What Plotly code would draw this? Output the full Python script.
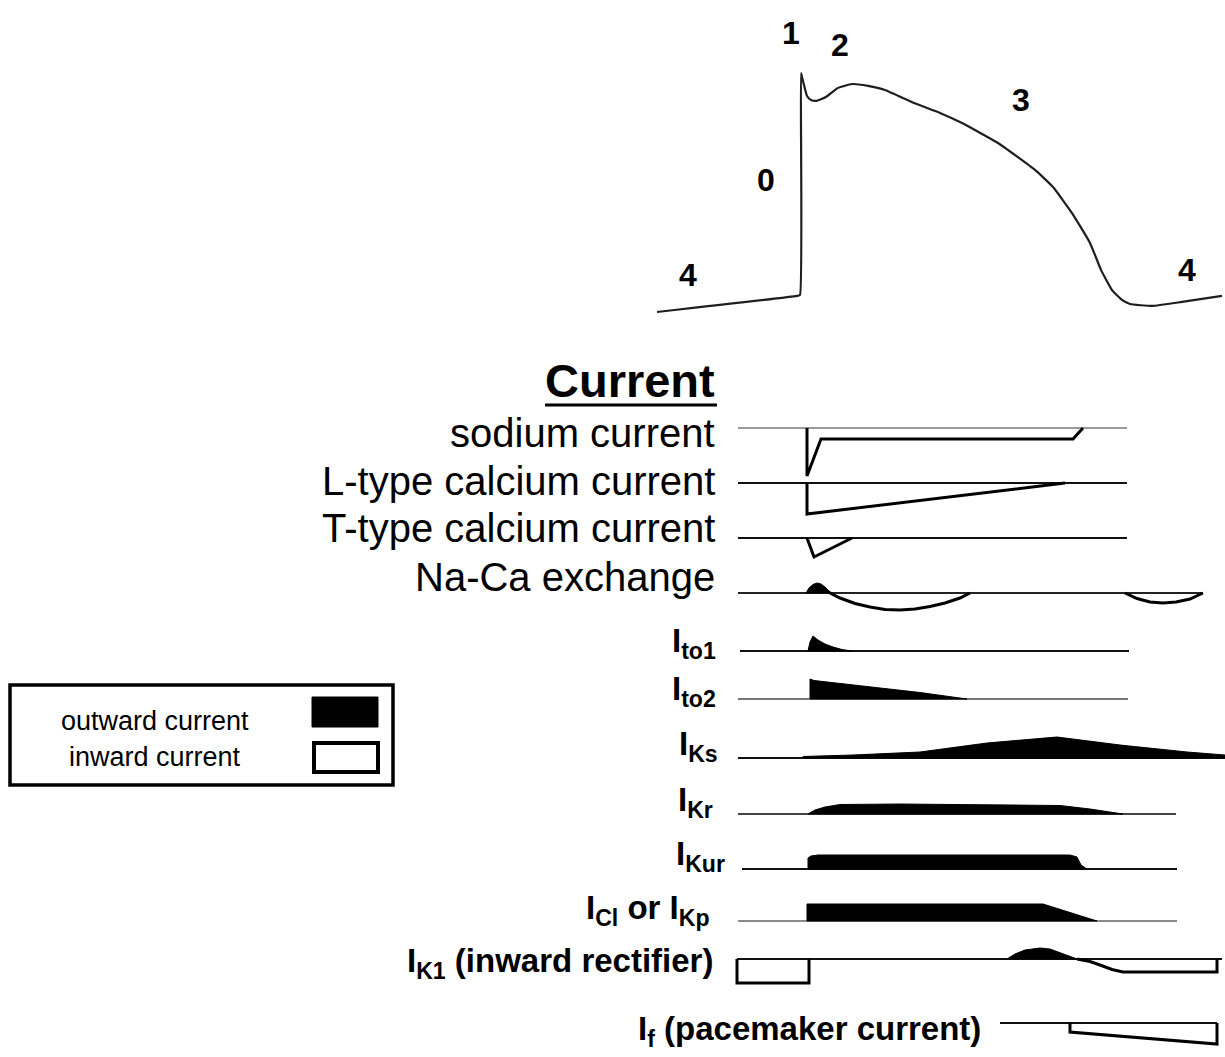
import plotly.graph_objects as go

FONT = "Liberation Sans, Arial, Helvetica, sans-serif"

# ---------------------------------------------------------------------------
# Ventricular action potential: time (ms, 0 = upstroke) and potential (mV)
ap_time = [-143, -3, 0, 1, 2, 4, 7, 11, 16, 26, 38, 52, 68, 85, 114, 140, 162,
           198, 235, 253, 272, 290, 301, 312, 322, 330, 352, 382, 422]
ap_mv = [-93.1, -84.8, -84.3, 30.0, 28.0, 23.9, 18.2, 16.2, 15.7, 17.7, 22.4,
         24.4, 23.4, 21.3, 14.6, 9.5, 4.3, -6.0, -19.9, -28.7, -42.1, -57.5,
         -71.4, -81.8, -86.9, -89.0, -90.0, -87.9, -84.8]

phase_names = ["4", "0", "1", "2", "3", "4"]
phase_time = [-112, -34, -9, 40, 221, 387]
phase_mv = [-74.0, -25.1, 50.7, 44.5, 16.2, -71.4]

# ---------------------------------------------------------------------------
# Ionic currents (arbitrary units; + outward, - inward)
row_labels = [
    "sodium current", "L-type calcium current", "T-type calcium current",
    "Na-Ca exchange",
    "I<sub>to1</sub>", "I<sub>to2</sub>", "I<sub>Ks</sub>", "I<sub>Kr</sub>",
    "I<sub>Kur</sub>", "I<sub>Cl</sub> or I<sub>Kp</sub>",
    "I<sub>K1</sub> (inward rectifier)", "I<sub>f</sub> (pacemaker current)",
]
row_start = [-62, -62, -62, -62, -60, -62, -62, -62, -58, -62, -63, 200]
row_end = [327, 327, 327, 403, 329, 328, 425, 376, 377, 377, 422, 417]

# inward currents (outlined)
na_t = [7, 7, 21, 273, 283]
na_amp = [0, -48, -11, -11, 0]
cal_t = [7, 7, 265]
cal_amp = [0, -31, 0]
cat_t = [7, 14, 52]
cat_amp = [0, -19, 0]
ncx_in1_t = [30, 40, 55, 70, 85, 100, 115, 130, 145, 160, 170]
ncx_in1_amp = [0, -5, -10.5, -14, -16.5, -17, -16, -13.5, -10, -5, 0]
ncx_in2_t = [325, 337, 350, 363, 376, 390, 403]
ncx_in2_amp = [0, -5.5, -9, -10, -9, -6, 0]
ik1_in1_t = [-63, -63, 9, 9]
ik1_in1_amp = [0, -24, -24, 0]
ik1_in2_t = [277, 290, 300, 312, 323, 417, 417]
ik1_in2_amp = [0, -2.5, -6, -10.5, -13, -13, 0]
if_t = [270, 270, 417, 417]
if_amp = [0, -9, -21, 0]

# outward currents (filled)
ncx_out_t = [6, 9, 13, 17, 21, 25, 29, 32]
ncx_out_amp = [0, 5, 8.5, 10, 9, 6, 2, 0]
ito1_t = [8, 10, 13, 18, 25, 33, 42, 52]
ito1_amp = [0, 9, 15, 11, 7, 4, 1.5, 0]
ito2_t = [10, 10, 14, 60, 120, 167]
ito2_amp = [0, 20, 18.5, 13, 6.5, 0]
iks_t = [3, 3, 53, 120, 187, 257, 320, 387, 425, 425]
iks_amp = [0, 1.5, 3, 6, 15, 21, 13, 6, 3, 0]
ikr_t = [8, 15, 25, 40, 100, 200, 260, 290, 323]
ikr_amp = [0, 4, 7, 9.5, 10, 9.5, 8.5, 5, 0]
ikur_t = [8, 8, 11, 18, 30, 270, 277, 281, 287]
ikur_amp = [0, 11, 13, 14, 14, 14, 12, 4, 0]
icl_t = [7, 7, 243, 297]
icl_amp = [0, 17, 17, 0]
ik1_out_t = [207, 215, 225, 240, 250, 260, 270, 277]
ik1_out_amp = [0, 5, 9, 11, 10, 6, 2, 0]

# ---------------------------------------------------------------------------
# layout of the rows (vertical position of each baseline, in figure pixels)
row_base = [428, 483, 538, 593, 651, 699, 758, 814, 869, 921, 959, 1023]
row_color = ["#9a9a9a", "#111", "#111", "#222", "#111", "#777", "#111", "#444",
             "#111", "#8a8a8a", "#111", "#111"]
label_y = [433, 481, 528, 577, 643, 691, 746, 802, 856, 910, 963, 1031]
label_x = [-83, -83, -83, -83, -82, -82, -80, -85, -73, -88, -85, 183]

inward = [
    (0, na_t, na_amp), (1, cal_t, cal_amp), (2, cat_t, cat_amp),
    (3, ncx_in1_t, ncx_in1_amp), (3, ncx_in2_t, ncx_in2_amp),
    (10, ik1_in1_t, ik1_in1_amp), (10, ik1_in2_t, ik1_in2_amp),
    (11, if_t, if_amp),
]
outward = [
    (3, ncx_out_t, ncx_out_amp), (4, ito1_t, ito1_amp), (5, ito2_t, ito2_amp),
    (6, iks_t, iks_amp), (7, ikr_t, ikr_amp), (8, ikur_t, ikur_amp),
    (9, icl_t, icl_amp), (10, ik1_out_t, ik1_out_amp),
]

fig = go.Figure()

# baselines
for i in range(len(row_labels)):
    fig.add_trace(go.Scatter(
        x=[row_start[i], row_end[i]], y=[row_base[i], row_base[i]],
        mode="lines", line=dict(color=row_color[i], width=2),
        hoverinfo="skip", showlegend=False))

# outward currents: solid black areas above the baseline
for row, ts, amps in outward:
    b = row_base[row]
    xs = list(ts) + [ts[-1], ts[0]]
    ys = [b - a for a in amps] + [b, b]
    fig.add_trace(go.Scatter(
        x=xs, y=ys, mode="lines", fill="toself", fillcolor="black",
        line=dict(color="black", width=1), hoverinfo="skip", showlegend=False))

# inward currents: open outlines below the baseline
for row, ts, amps in inward:
    b = row_base[row]
    fig.add_trace(go.Scatter(
        x=ts, y=[b - a for a in amps], mode="lines",
        line=dict(color="black", width=3), hoverinfo="skip", showlegend=False))

# action potential
fig.add_trace(go.Scatter(
    x=ap_time, y=ap_mv, yaxis="y2", mode="lines",
    line=dict(color="#1e1e1e", width=2.2, shape="spline", smoothing=0.4),
    hoverinfo="skip", showlegend=False))

annotations = []
for name, t, v in zip(phase_names, phase_time, phase_mv):
    annotations.append(dict(
        x=t, y=v, xref="x", yref="y2", text=f"<b>{name}</b>", showarrow=False,
        font=dict(family=FONT, size=32, color="black"), xanchor="center",
        yanchor="middle"))

annotations.append(dict(
    x=-83, y=380, xref="x", yref="y", text="<b>Current</b>", showarrow=False,
    font=dict(family=FONT, size=47, color="black"), xanchor="right",
    yanchor="middle"))

for i, lab in enumerate(row_labels):
    bold = i >= 4
    annotations.append(dict(
        x=label_x[i], y=label_y[i], xref="x", yref="y",
        text=f"<b>{lab}</b>" if bold else lab, showarrow=False,
        font=dict(family=FONT, size=33 if bold else 40, color="black"),
        xanchor="right", yanchor="middle"))

# legend
annotations.append(dict(
    x=-645, y=721, xref="x", yref="y", text="outward current",
    showarrow=False, font=dict(family=FONT, size=27, color="black"),
    xanchor="center", yanchor="middle"))
annotations.append(dict(
    x=-645, y=757, xref="x", yref="y", text="inward current",
    showarrow=False, font=dict(family=FONT, size=27, color="black"),
    xanchor="center", yanchor="middle"))

shapes = [
    # underline of the heading
    dict(type="line", xref="x", yref="y", x0=-255, x1=-83, y0=405, y1=405,
         line=dict(color="black", width=3)),
    # legend frame and swatches
    dict(type="rect", xref="x", yref="y", x0=-790, x1=-407, y0=685, y1=785,
         line=dict(color="black", width=3.5), fillcolor="white", layer="below"),
    dict(type="rect", xref="x", yref="y", x0=-488, x1=-422, y0=697, y1=727,
         line=dict(color="black", width=1), fillcolor="black"),
    dict(type="rect", xref="x", yref="y", x0=-486, x1=-422, y0=743, y1=772,
         line=dict(color="black", width=4), fillcolor="white"),
]

fig.update_layout(
    width=1225, height=1057,
    margin=dict(l=0, r=0, t=0, b=0),
    paper_bgcolor="white", plot_bgcolor="white",
    xaxis=dict(range=[-800, 425], visible=False, fixedrange=True),
    yaxis=dict(range=[1057, 0], visible=False, fixedrange=True),
    yaxis2=dict(range=[-477.1, 67.7], overlaying="y", visible=False,
                fixedrange=True),
    annotations=annotations, shapes=shapes,
)

fig.write_html("out.html")
